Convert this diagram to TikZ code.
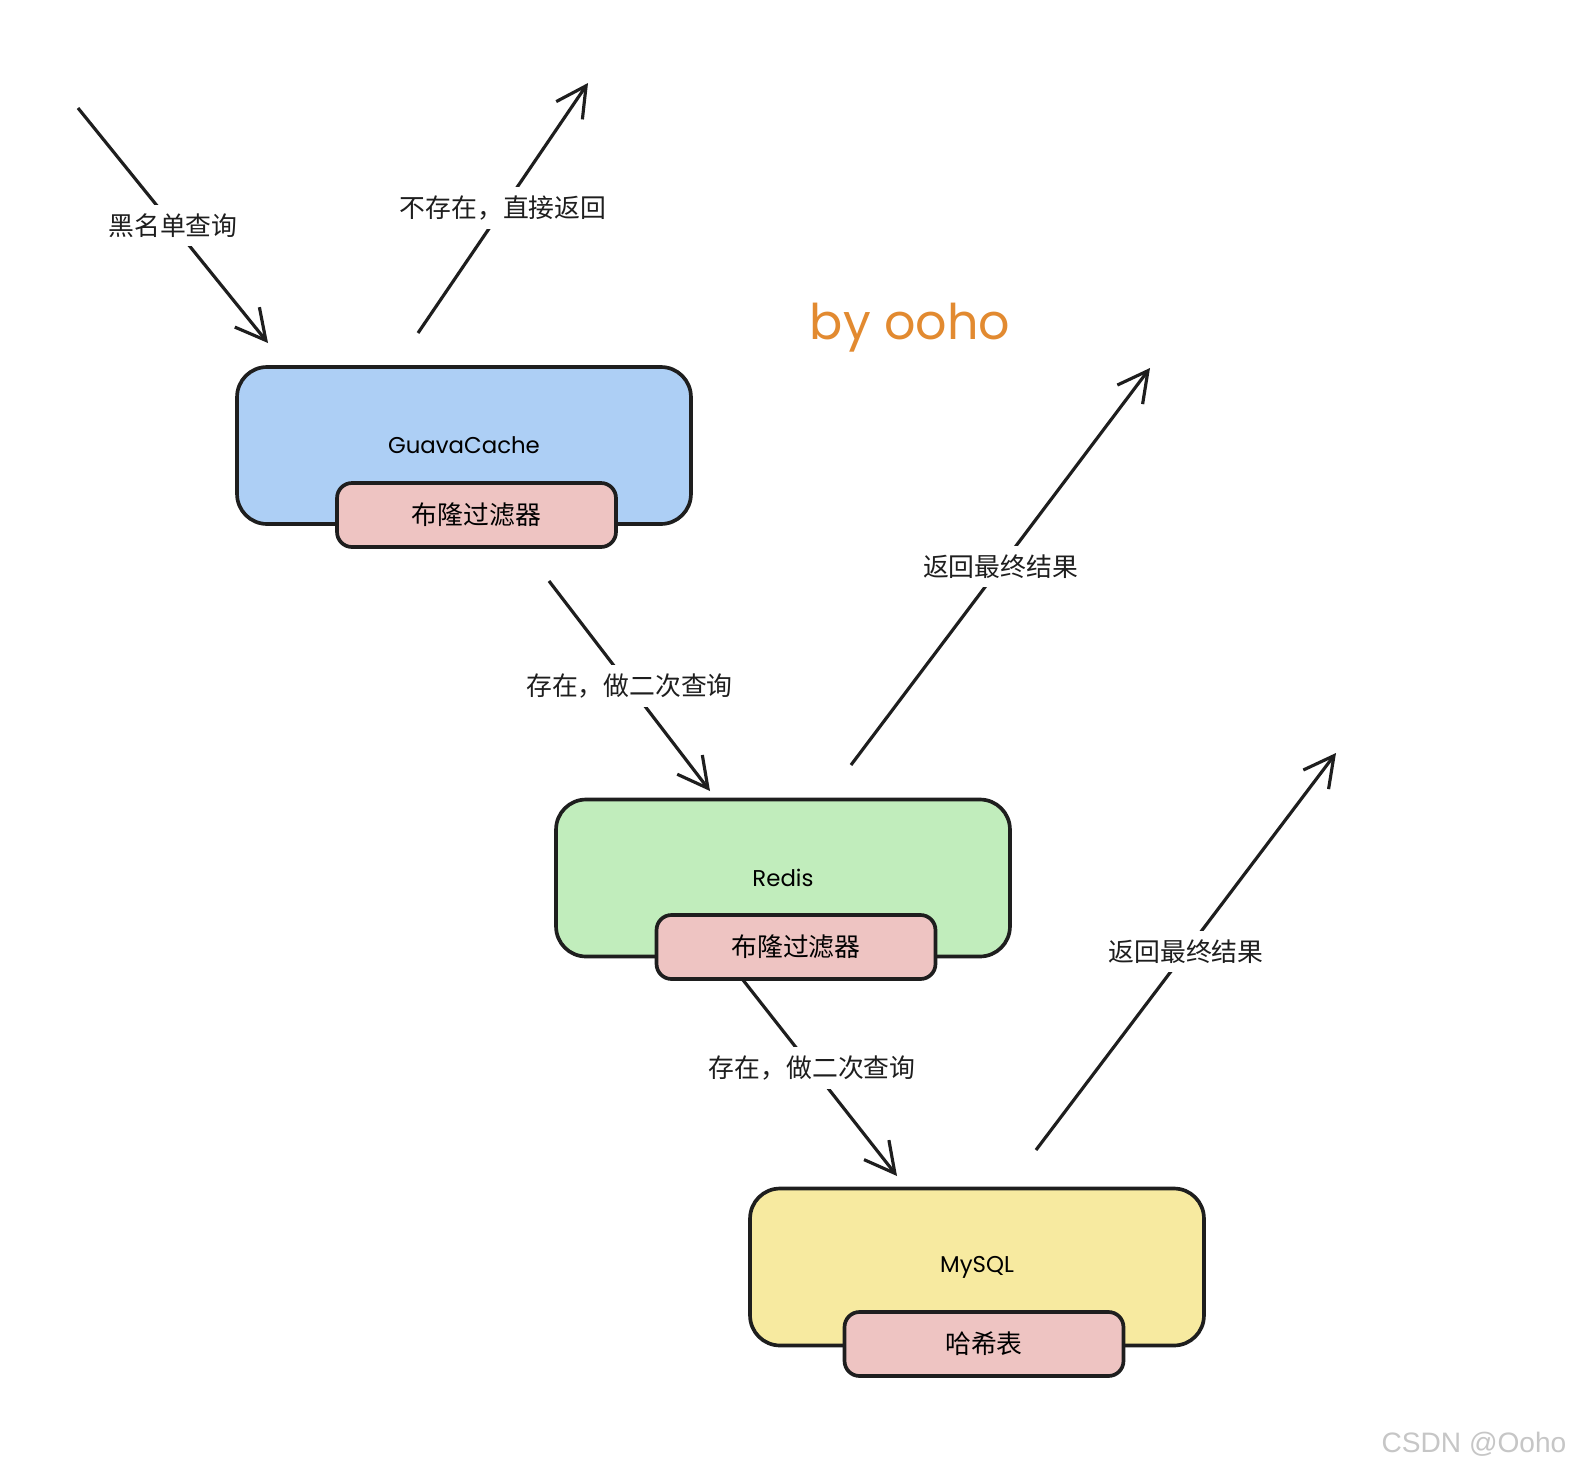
\documentclass[tikz,border=0pt]{standalone}
\usepackage{fontspec}
\setmainfont{Poppins}
\newfontfamily\cjk{Noto Sans CJK SC}
\newfontfamily\wmfont{Liberation Sans}
\usetikzlibrary{arrows.meta}
\definecolor{guavablue}{RGB}{173, 207, 245}
\definecolor{redisgreen}{RGB}{193, 237, 188}
\definecolor{mysqlyellow}{RGB}{247, 234, 160}
\definecolor{bloompink}{RGB}{238, 196, 194}
\definecolor{inkgray}{RGB}{30, 30, 30}
\definecolor{oohoorange}{RGB}{226, 138, 48}

\tikzset{
  store/.style={draw=inkgray, line width=2.1pt, rounded corners=0.6cm,
    minimum width=9.08cm, minimum height=3.14cm, font=\fontsize{13}{15}\selectfont},
  filterbox/.style={draw=inkgray, line width=2.1pt, rounded corners=0.3cm, fill=bloompink,
    minimum width=5.58cm, minimum height=1.28cm, font=\cjk\fontsize{14.7}{18}\selectfont},
  flow/.style={draw=inkgray, line width=1.8pt, -{Straight Barb[length=17pt, width=18pt, line width=1.8pt]}},
  lbl/.style={fill=white, inner sep=5pt, text=inkgray, font=\cjk\fontsize{14.7}{18}\selectfont}
}

\begin{document}
\begin{tikzpicture}[x=0.02cm, y=-0.02cm]
  \useasboundingbox[fill=white] (0,0) rectangle (1570,1474);

  % stores
  \node[store, fill=guavablue] (guava) at (464,445.5) {GuavaCache};
  \node[filterbox] (bloomA) at (476.5,515) {布隆过滤器};
  \node[store, fill=redisgreen] (redis) at (783,878) {Redis};
  \node[filterbox] (bloomB) at (796,947) {布隆过滤器};
  \node[store, fill=mysqlyellow] (mysql) at (977,1267) {MySQL};
  \node[filterbox] (hashtab) at (984,1344) {哈希表};

  % arrow ends
  \coordinate (qstart) at (78,108);
  \coordinate (qend) at (268,343);
  \coordinate (nstart) at (418,333);
  \coordinate (nend) at (588,83);
  \coordinate (sAstart) at (549,581);
  \coordinate (sAend) at (710,791);
  \coordinate (rAstart) at (851,765);
  \coordinate (rAend) at (1150,368);
  \coordinate (sBstart) at (743,980);
  \coordinate (sBend) at (897,1176);
  \coordinate (rBstart) at (1036,1150);
  \coordinate (rBend) at (1336,753);

  \draw[flow] (qstart) -- node[lbl] {黑名单查询} (qend);
  \draw[flow] (nstart) -- node[lbl] {不存在，直接返回} (nend);
  \draw[flow] (sAstart) -- node[lbl] {存在，做二次查询} (sAend);
  \draw[flow] (rAstart) -- node[lbl] {返回最终结果} (rAend);
  \draw[flow] (sBstart) -- node[lbl, pos=0.45] {存在，做二次查询} (sBend);
  \draw[flow] (rBstart) -- node[lbl] {返回最终结果} (rBend);

  % signature and watermark
  \node[text=oohoorange, font=\fontsize{28}{32}\selectfont] (sign) at (910,328) {by ooho};
  \node[text=gray!45, font=\wmfont\fontsize{16}{18}\selectfont] (mark) at (1474,1444) {CSDN @Ooho};
\end{tikzpicture}
\end{document}
